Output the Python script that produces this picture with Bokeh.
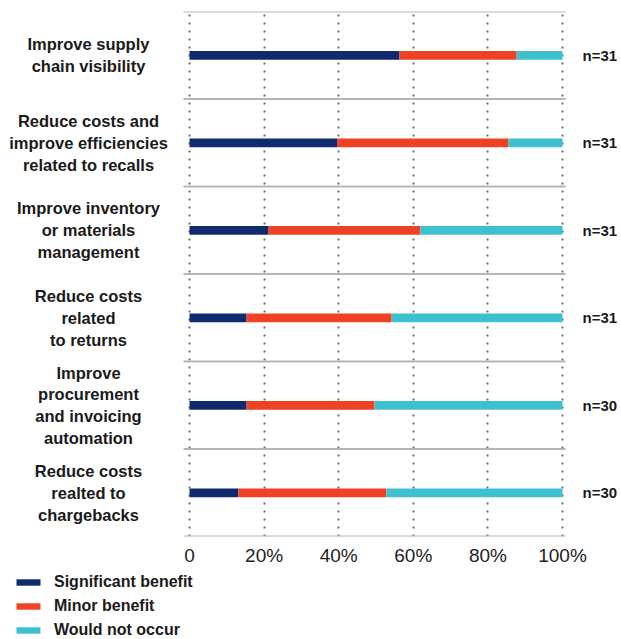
from bokeh.plotting import figure
from bokeh.layouts import column
from bokeh.models import (ColumnDataSource, Range1d, FixedTicker,
                          Legend, LegendItem, LabelSet)
from bokeh.core.properties import value
from bokeh.embed import file_html
from bokeh.resources import INLINE

# Expected benefits by use case (share of respondents, %)
categories = [
    "Improve supply\nchain visibility",
    "Reduce costs and\nimprove efficiencies\nrelated to recalls",
    "Improve inventory\nor materials\nmanagement",
    "Reduce costs\nrelated\nto returns",
    "Improve\nprocurement\nand invoicing\nautomation",
    "Reduce costs\nrealted to\nchargebacks",
]
significant = [56.3, 39.7, 21.2, 15.3, 15.3, 13.1]
minor = [31.4, 45.8, 40.7, 38.9, 34.3, 39.7]
would_not_occur = [12.3, 14.5, 38.1, 45.8, 50.4, 47.2]
respondents = [31, 31, 31, 31, 30, 30]

series_names = ["Significant benefit", "Minor benefit", "Would not occur"]
series_colors = ["#102a6e", "#ef4123", "#3ec1ce"]

tick_values = [0, 20, 40, 60, 80, 100]
tick_labels = ["0", "20%", "40%", "60%", "80%", "100%"]

FONT = "Liberation Sans"
TEXT_COLOR = "#1a1a1a"
LINE_PX = 21.8  # spacing between wrapped label lines

# the plot frame spans the full width; the label column sits left of 0
X_START, X_END = -50.67, 115.82
RULE_START, RULE_END = -1.61, 100.8

n_rows = len(categories)
row_y = [n_rows - i - 0.5 for i in range(n_rows)]

source = ColumnDataSource(dict(
    y=row_y,
    significant=significant,
    minor=minor,
    none=would_not_occur,
    n_label=["n=%d" % n for n in respondents],
    right=[100] * n_rows,
))

# one entry per wrapped line so that every line is centred on its own
line_text, line_y, line_dy = [], [], []
for yc, cat in zip(row_y, categories):
    parts = cat.split("\n")
    for j, part in enumerate(parts):
        line_text.append(part)
        line_y.append(yc)
        line_dy.append(((len(parts) - 1) / 2 - j) * LINE_PX)
label_source = ColumnDataSource(dict(
    x=[0] * len(line_text), y=line_y, dy=line_dy, text=line_text))

p = figure(
    width=621, height=568,
    x_range=Range1d(X_START, X_END), y_range=Range1d(0, n_rows),
    y_axis_location=None,
    output_backend="svg", toolbar_location=None,
    min_border_left=0, min_border_right=0,
    min_border_top=11, min_border_bottom=32,
)
p.outline_line_color = None
p.background_fill_color = "white"
p.border_fill_color = "white"

# x axis: percentage ticks without axis line or tick marks
p.xaxis.ticker = FixedTicker(ticks=tick_values)
p.xaxis.major_label_overrides = dict(zip(tick_values, tick_labels))
p.xaxis.axis_line_color = None
p.xaxis.major_tick_line_color = None
p.xaxis.minor_tick_line_color = None
p.xaxis.major_tick_out = 0
p.xaxis.major_tick_in = 0
p.xaxis.major_label_standoff = 8
p.xaxis.major_label_text_font = FONT
p.xaxis.major_label_text_font_size = "19px"
p.xaxis.major_label_text_color = "#222222"

# dotted vertical grid
p.ygrid.visible = False
p.xgrid.grid_line_color = "#6e6e6e"
p.xgrid.grid_line_width = 2
p.xgrid.grid_line_dash = "2 6"

# row separators
bounds = list(range(n_rows + 1))
p.segment(x0=[RULE_START] * len(bounds), x1=[RULE_END] * len(bounds),
          y0=bounds, y1=bounds, line_color="#b5b5b5", line_width=2)

# stacked horizontal bars
p.hbar_stack(
    ["significant", "minor", "none"], y="y", height=0.1,
    color=series_colors, line_color=None, source=source,
)

# category labels on the left
p.add_layout(LabelSet(
    x="x", y="y", text="text", source=label_source,
    x_offset=-101, y_offset="dy",
    text_align="center", text_baseline="middle",
    text_font=value(FONT), text_font_style="bold",
    text_font_size="16.5px", text_color=TEXT_COLOR))

# respondent counts on the right
p.add_layout(LabelSet(
    x="right", y="y", text="n_label", source=source, x_offset=20,
    text_align="left", text_baseline="middle",
    text_font=value(FONT), text_font_style="bold",
    text_font_size="15px", text_color=TEXT_COLOR))

# legend strip underneath the chart
lg = figure(
    width=621, height=71, x_range=Range1d(0, 1), y_range=Range1d(0, 1),
    x_axis_location=None, y_axis_location=None,
    output_backend="svg", toolbar_location=None,
    min_border=0,
)
lg.outline_line_color = None
lg.grid.visible = False
# zero-width swatch renderers that carry the series colours for the legend
swatches = [lg.hbar(y=[-1], left=[0], right=[0], height=0.1, color=c,
                    line_color=None)
            for c in series_colors]

legend = Legend(
    items=[LegendItem(label=name, renderers=[r])
           for name, r in zip(series_names, swatches)],
    location=(13, 0), orientation="vertical",
    glyph_width=30, glyph_height=8, label_height=18, spacing=6,
    label_standoff=11, padding=0, margin=0,
    border_line_color=None, background_fill_alpha=0,
    label_text_font=FONT, label_text_font_style="bold",
    label_text_font_size="16px", label_text_color=TEXT_COLOR,
)
lg.add_layout(legend)

open("out.html", "w").write(file_html(column(p, lg, spacing=0), INLINE))
